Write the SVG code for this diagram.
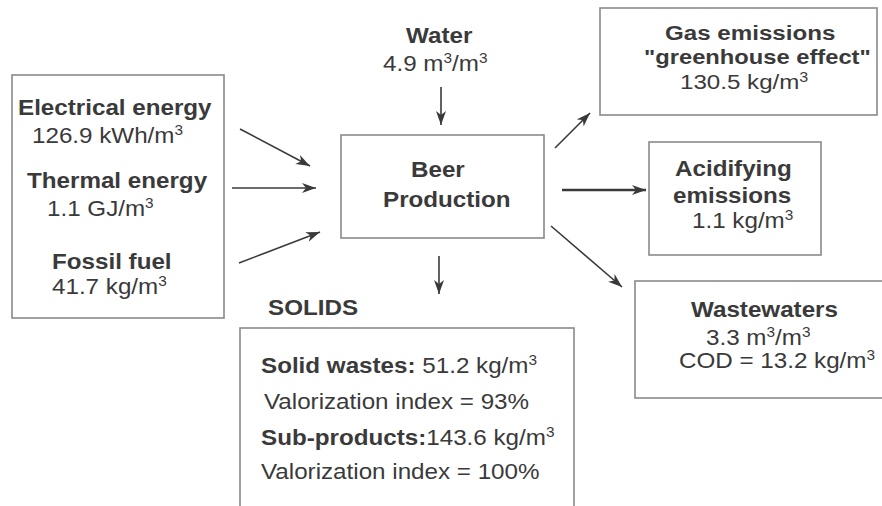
<svg xmlns="http://www.w3.org/2000/svg" width="882" height="506" viewBox="0 0 882 506">
<style>
text{font-family:"Liberation Sans",Arial,sans-serif;font-size:22px;fill:#3a3a3a}
.b{font-weight:bold}
.sup{font-size:14px}
.g{font-size:21px}
.box{fill:#fff;stroke:#8a8a8a;stroke-width:1.6}
.arr{stroke:#3a3a3a;stroke-width:1.6;fill:none;marker-end:url(#ah)}
.thick{stroke-width:2.6}
</style>
<defs>
<marker id="ah" markerUnits="userSpaceOnUse" markerWidth="16" markerHeight="12" refX="14" refY="5" orient="auto">
<path d="M0,0 L14,5 L0,10 L4,5 Z" fill="#3a3a3a"/>
</marker>
</defs>
<rect width="882" height="506" fill="#fff"/>
<g id="connectors">
<line class="arr" x1="240" y1="129" x2="310" y2="166"/>
<line class="arr" x1="232" y1="188" x2="316" y2="188"/>
<line class="arr" x1="239" y1="263" x2="320" y2="232"/>
<line class="arr" x1="441" y1="87" x2="441" y2="125"/>
<line class="arr" x1="439" y1="256" x2="439" y2="294"/>
<line class="arr" x1="555" y1="148" x2="590" y2="113"/>
<line class="arr thick" x1="562" y1="190" x2="646" y2="190"/>
<line class="arr" x1="551" y1="226" x2="622" y2="287"/>
</g>
<g id="inputs">
<rect class="box" x="12" y="75" width="212" height="243"/>
<text class="b" transform="translate(18,115) scale(1.1,1)">Electrical energy</text>
<text transform="translate(32,143) scale(1.1,1)">126.9 kWh/m<tspan class="sup" dy="-8">3</tspan></text>
<text class="b" transform="translate(27,188) scale(1.1,1)">Thermal energy</text>
<text transform="translate(47,216) scale(1.1,1)">1.1 GJ/m<tspan class="sup" dy="-8">3</tspan></text>
<text class="b" transform="translate(52,269) scale(1.1,1)">Fossil fuel</text>
<text transform="translate(52,294) scale(1.1,1)">41.7 kg/m<tspan class="sup" dy="-8">3</tspan></text>
</g>
<g id="water">
<text class="b" transform="translate(406,43) scale(1.1,1)">Water</text>
<text transform="translate(383,71) scale(1.1,1)">4.9 m<tspan class="sup" dy="-8">3</tspan><tspan dy="8">/m</tspan><tspan class="sup" dy="-8">3</tspan></text>
</g>
<g id="beer">
<rect class="box" x="341" y="135" width="203" height="103"/>
<text class="b" transform="translate(411,177) scale(1.1,1)">Beer</text>
<text class="b" transform="translate(383,207) scale(1.1,1)">Production</text>
</g>
<g id="gas">
<rect class="box" x="600" y="8" width="277" height="107"/>
<text class="b g" transform="translate(665,40) scale(1.15,1)">Gas emissions</text>
<text class="b g" transform="translate(644,64) scale(1.13,1)">"greenhouse effect"</text>
<text class="g" transform="translate(680,89) scale(1.15,1)">130.5 kg/m<tspan class="sup" dy="-7">3</tspan></text>
</g>
<g id="acid">
<rect class="box" x="649" y="142" width="172" height="113"/>
<text class="b" transform="translate(675,176) scale(1.1,1)">Acidifying</text>
<text class="b" transform="translate(673,203) scale(1.1,1)">emissions</text>
<text transform="translate(692,228) scale(1.1,1)">1.1 kg/m<tspan class="sup" dy="-8">3</tspan></text>
</g>
<g id="wastewaters">
<rect class="box" x="635" y="281" width="260" height="117"/>
<text class="b" transform="translate(691,317) scale(1.1,1)">Wastewaters</text>
<text transform="translate(706,345) scale(1.1,1)">3.3 m<tspan class="sup" dy="-8">3</tspan><tspan dy="8">/m</tspan><tspan class="sup" dy="-8">3</tspan></text>
<text transform="translate(679,368) scale(1.1,1)">COD = 13.2 kg/m<tspan class="sup" dy="-8">3</tspan></text>
</g>
<g id="solids">
<text class="b" transform="translate(268,315) scale(1.1,1)">SOLIDS</text>
<rect class="box" x="240" y="328" width="334" height="200"/>
<text transform="translate(261,373) scale(1.1,1)"><tspan class="b">Solid wastes:</tspan> 51.2 kg/m<tspan class="sup" dy="-8">3</tspan></text>
<text transform="translate(264,409) scale(1.1,1)">Valorization index = 93%</text>
<text transform="translate(261,445) scale(1.1,1)"><tspan class="b">Sub-products:</tspan>143.6 kg/m<tspan class="sup" dy="-8">3</tspan></text>
<text transform="translate(261,479) scale(1.1,1)">Valorization index = 100%</text>
</g>
</svg>
